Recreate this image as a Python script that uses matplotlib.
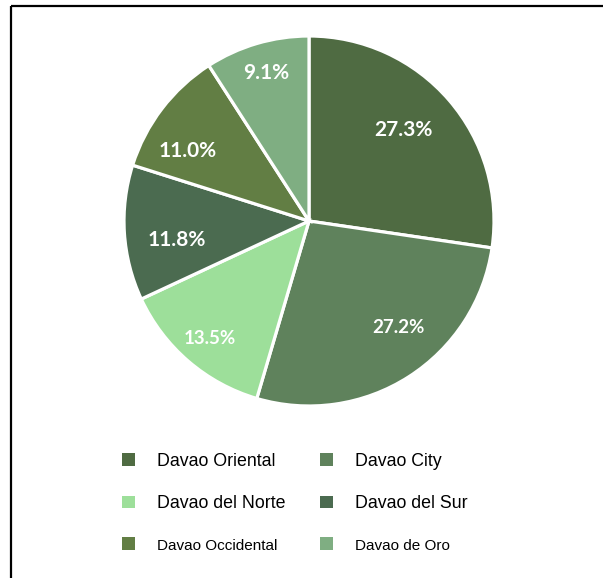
import matplotlib.pyplot as plt
import numpy as np
from matplotlib.patches import Patch

# Data
regions = ['Davao Oriental', 'Davao City', 'Davao del Norte',
           'Davao del Sur', 'Davao Occidental', 'Davao de Oro']
shares = [27.3, 27.2, 13.5, 11.8, 11.0, 9.1]
colors = ['#4f6b42', '#5f825c', '#9ddf9a', '#4b6b50', '#627e44', '#7fae82']

# label placement (radius fraction, angle in deg) - layout only
label_r = [0.71, 0.75, 0.83, 0.72, 0.76, 0.83]
label_ang = [44, -50, -130, -172, 150, 106]
label_size = [15, 13.5, 13.5, 15, 15, 15]

W, H = 603, 578
fig = plt.figure(figsize=(W / 100, H / 100), dpi=100)
ax = fig.add_axes([0, 0, 1, 1])

cx, cy, R = 309, H - 221, 185
wedges, _ = ax.pie(shares, colors=colors, startangle=90, counterclock=False,
                   center=(cx, cy), radius=R, frame=True,
                   wedgeprops=dict(edgecolor='white', linewidth=2.3))
ax.set_xlim(0, W)
ax.set_ylim(0, H)
ax.set_aspect('equal')
ax.axis('off')

for val, r, a, fs in zip(shares, label_r, label_ang, label_size):
    x = cx + r * R * np.cos(np.radians(a))
    y = cy + r * R * np.sin(np.radians(a))
    ax.text(x, y, f'{val:.1f}%', ha='center', va='center', color='white',
            fontsize=fs, fontweight='bold', family=['Lato', 'DejaVu Sans'])

# frame lines (top and left)
ax.plot([11, W], [H - 6, H - 6], color='black', lw=1.6, solid_capstyle='butt')
ax.plot([11, 11], [H - 6, 0], color='black', lw=1.6, solid_capstyle='butt')

# legend, column-major order for ncol=2
order = [0, 2, 4, 1, 3, 5]
handles = [Patch(facecolor=colors[i], edgecolor='none') for i in order]
labels = [regions[i] for i in order]
leg = ax.legend(handles, labels, ncol=2, frameon=False, loc='upper left',
                bbox_to_anchor=(113 / W, 1 - 444 / H),
                prop={'family': 'Liberation Sans', 'size': 12.8},
                handlelength=0.73, handleheight=0.7, handletextpad=1.25,
                columnspacing=1.95, labelspacing=1.42, borderpad=0)
for i, t in enumerate(leg.get_texts()):
    if labels[i] in ('Davao Occidental', 'Davao de Oro'):
        t.set_fontsize(11)

fig.savefig('out.png', dpi=100, facecolor='white')
